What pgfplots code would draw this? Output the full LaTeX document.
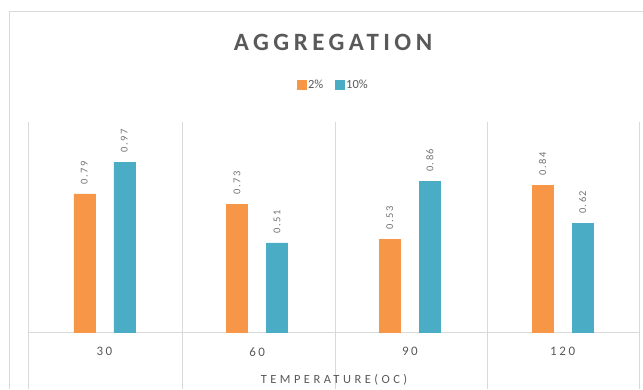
\documentclass[border=0pt]{standalone}
\usepackage{pgfplots}
\pgfplotsset{compat=1.18}
\usepackage{fontspec}
\setmainfont{Carlito}
\newfontfamily\titlefont[LetterSpace=18]{Carlito}
\newfontfamily\tickfont[LetterSpace=20]{Carlito}
\newfontfamily\labfont[LetterSpace=28]{Carlito}
\newfontfamily\valfont[LetterSpace=15]{Carlito}
\definecolor{orng}{HTML}{F79646}
\definecolor{blu}{HTML}{4BACC6}
\definecolor{txt}{HTML}{595959}
\definecolor{grd}{HTML}{D9D9D9}
\begin{document}
\begin{tikzpicture}
\begin{axis}[
  anchor=origin,
  scale only axis, width=611bp, height=210bp,
  xmin=0, xmax=4, ymin=0, ymax=1.2,
  axis y line=none,
  axis x line*=bottom,
  x axis line style={grd, -},
  xtick={0.5,1.5,2.5,3.5}, xticklabels={30,60,90,120},
  major tick length=0pt,
  xticklabel style={font=\tickfont\fontsize{13}{15}\selectfont, text=txt, yshift=-12bp},
  ybar, bar width=21bp,
  clip=false,
  nodes near coords,
  point meta=explicit symbolic,
  every node near coord/.append style={rotate=90, anchor=west, font=\valfont\fontsize{10.5}{12}\selectfont, text=txt!85, xshift=6bp},
  legend columns=2,
  legend style={at={(0.5,1)}, anchor=center, yshift=37bp, draw=none, font=\fontsize{12.5}{14}\selectfont, text=txt,
    /tikz/every even column/.append style={column sep=10bp}},
  legend image code/.code={\fill[#1] (0bp,-4.5bp) rectangle (8.5bp,4.5bp);},
]
\coordinate (O) at (rel axis cs:0,0);
\addplot[fill=orng, draw=orng, bar shift=-20bp] coordinates {(0.5,0.79) [0.79] (1.5,0.73) [0.73] (2.5,0.53) [0.53] (3.5,0.84) [0.84]};
\addplot[fill=blu, draw=blu, bar shift=20bp] coordinates {(0.5,0.97) [0.97] (1.5,0.51) [0.51] (2.5,0.86) [0.86] (3.5,0.62) [0.62]};
\legend{2\%,10\%}
\end{axis}
\begin{scope}[shift={(O)}, x=1bp, y=1bp, shift={(-28bp,-57bp)}]
\draw[grd] (9,0) -- (9,378) -- (643,378);
\foreach \xx in {28,182,335,487,639} \draw[grd] (\xx,0) -- (\xx,267);
\node[font=\titlefont\bfseries\fontsize{25}{30}\selectfont, text=txt] at (333,347) {AGGREGATION};
\node[font=\labfont\fontsize{12.5}{14}\selectfont, text=txt] at (334,9) {TEMPERATURE(OC)};
\pgfresetboundingbox
\path[use as bounding box] (0,0) rectangle (643,389);
\end{scope}
\end{tikzpicture}
\end{document}
